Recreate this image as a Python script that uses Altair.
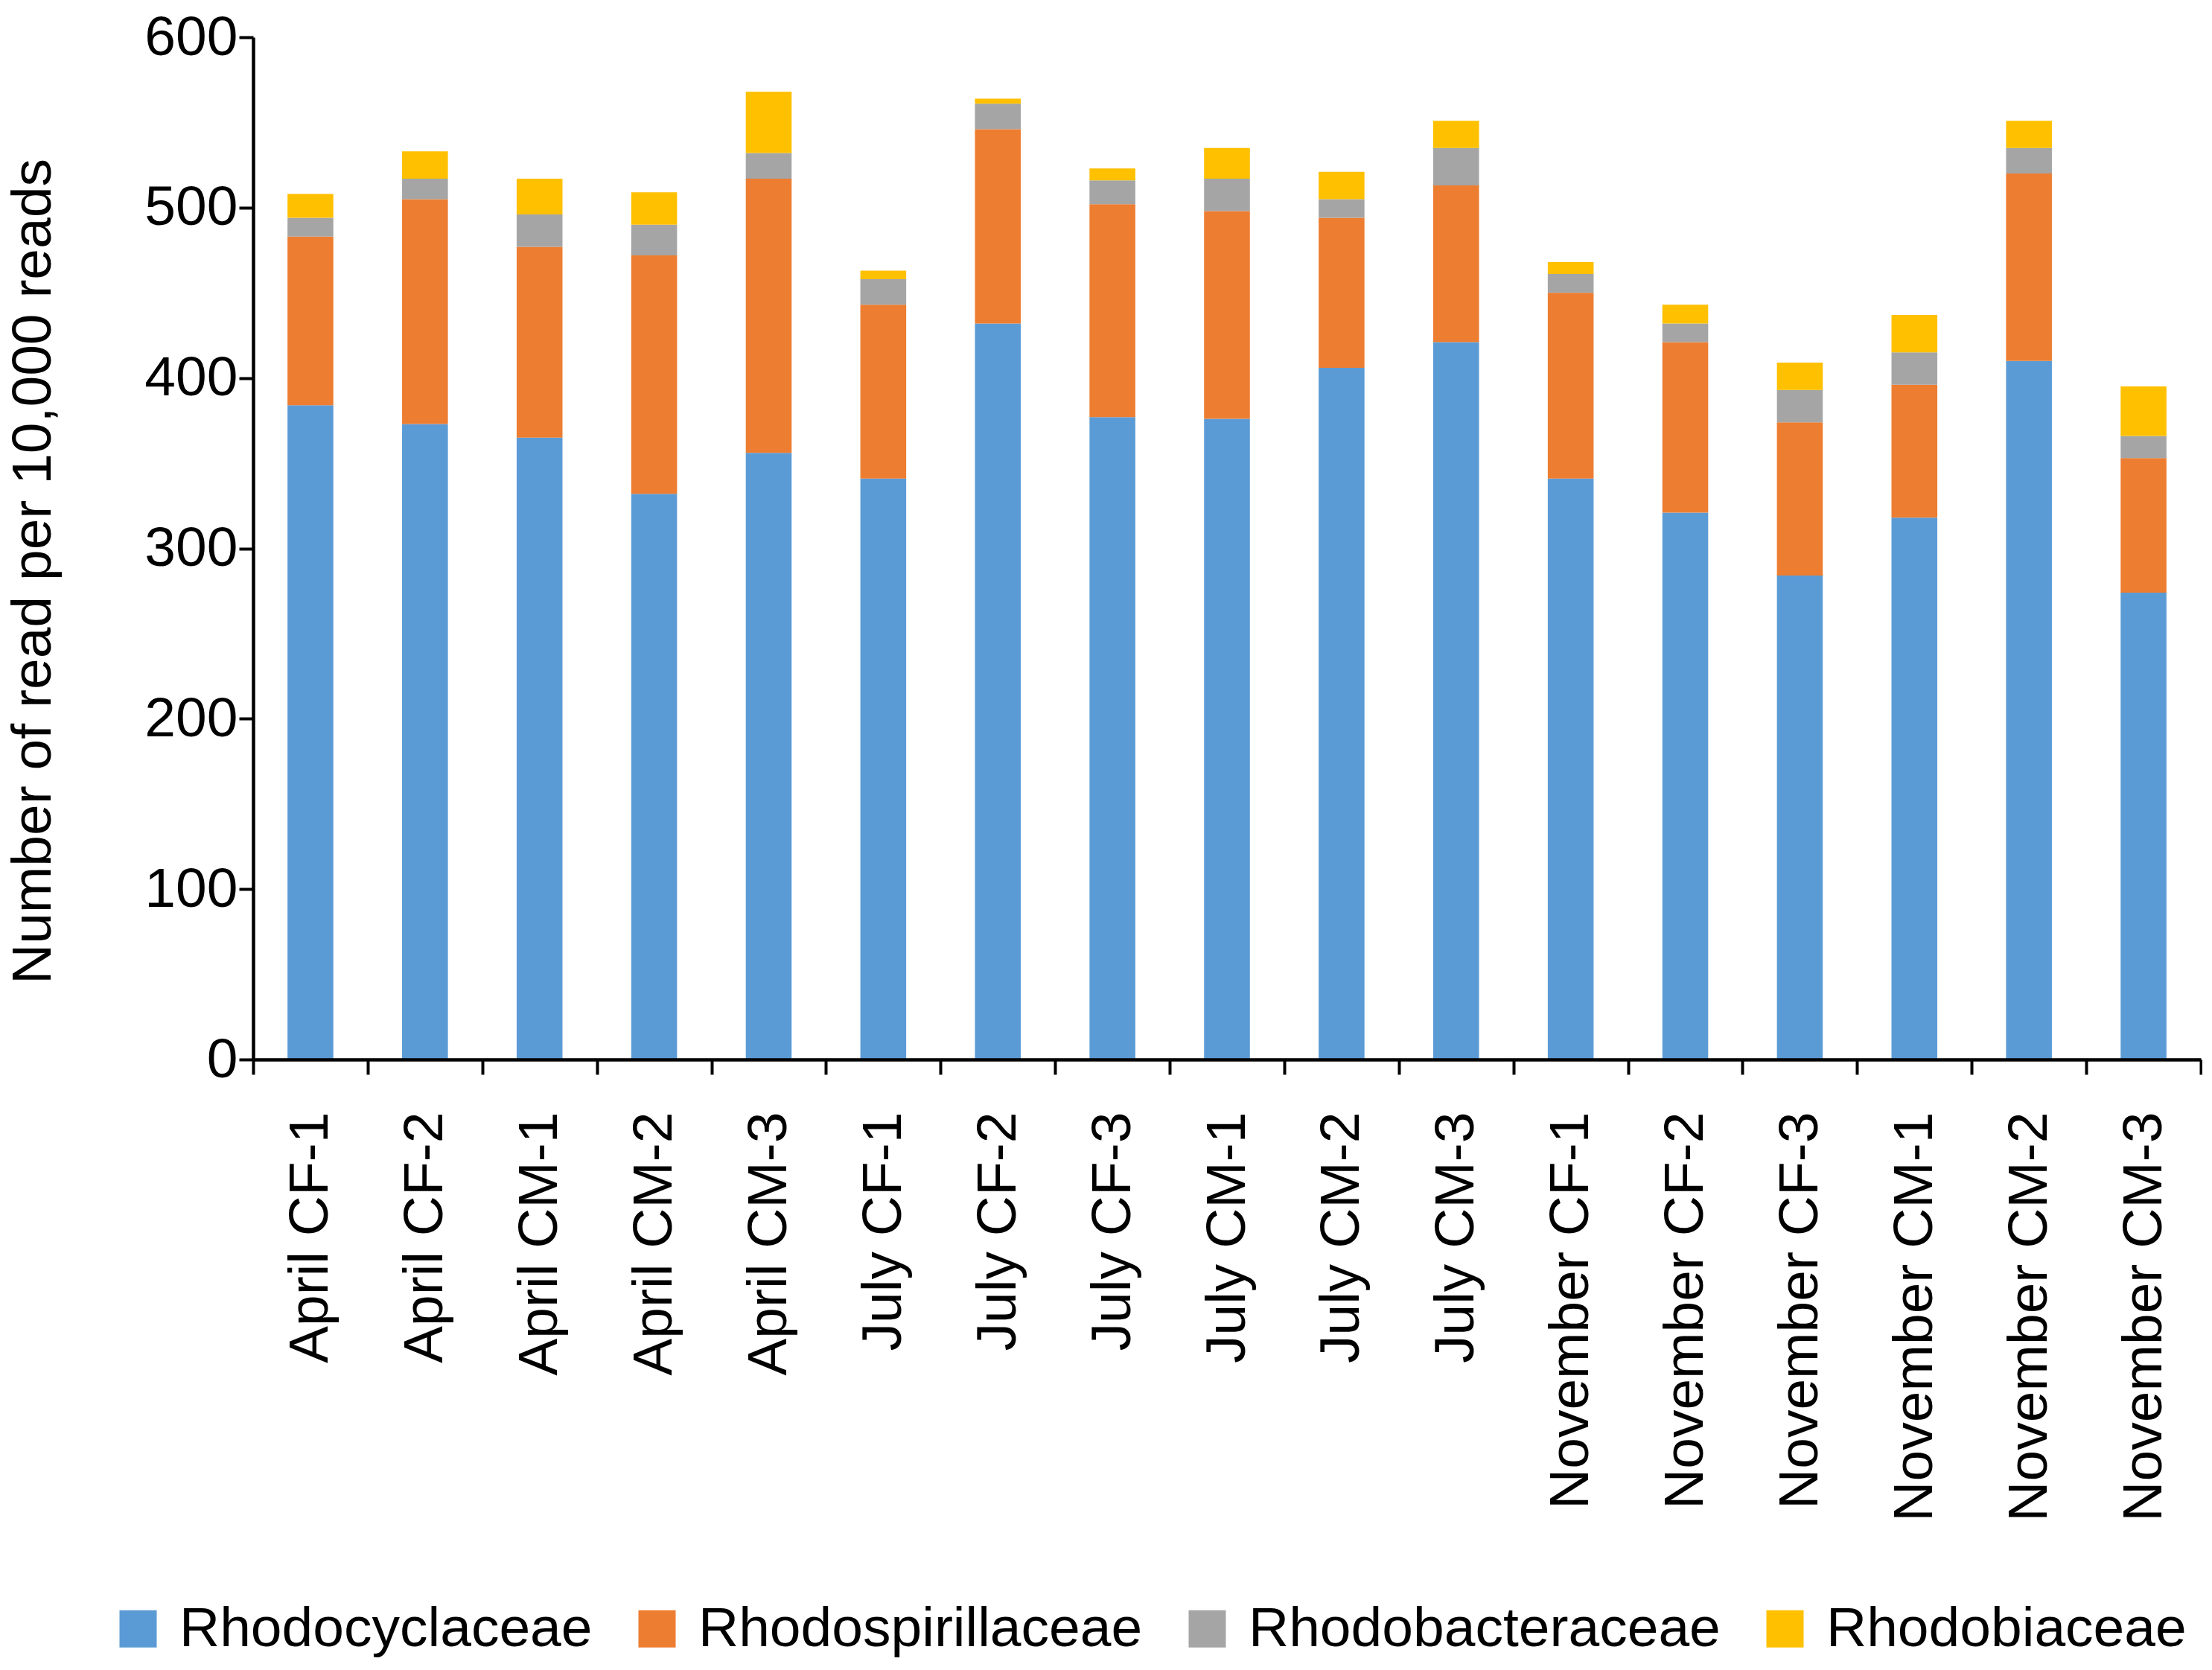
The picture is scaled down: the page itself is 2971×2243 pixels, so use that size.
import altair as alt
import pandas as pd

samples = [
    "April CF-1", "April CF-2", "April CM-1", "April CM-2", "April CM-3",
    "July CF-1", "July CF-2", "July CF-3", "July CM-1", "July CM-2", "July CM-3",
    "November CF-1", "November CF-2", "November CF-3", "November CM-1",
    "November CM-2", "November CM-3",
]
families = ["Rhodocyclaceae", "Rhodospirillaceae", "Rhodobacteraceae", "Rhodobiaceae"]
colors = ["#5B9BD5", "#ED7D31", "#A5A5A5", "#FFC000"]

rhodocyclaceae = [384, 373, 365, 332, 356, 341, 432, 377, 376, 406, 421, 341, 321, 284, 318, 410, 274]
rhodospirillaceae = [99, 132, 112, 140, 161, 102, 114, 125, 122, 88, 92, 109, 100, 90, 78, 110, 79]
rhodobacteraceae = [11, 12, 19, 18, 15, 15, 15, 14, 19, 11, 22, 11, 11, 19, 19, 15, 13]
rhodobiaceae = [14, 16, 21, 19, 36, 5, 3, 7, 18, 16, 16, 7, 11, 16, 22, 16, 29]

y_ticks = [0, 100, 200, 300, 400, 500, 600]

rows = []
for i, vals in enumerate([rhodocyclaceae, rhodospirillaceae, rhodobacteraceae, rhodobiaceae]):
    for s, v in zip(samples, vals):
        rows.append({"Sample": s, "Family": families[i], "Reads": v, "stack": i})
df = pd.DataFrame(rows)

font = "Liberation Sans"

chart = alt.Chart(df).mark_bar(width=alt.RelativeBandSize(0.4)).encode(
    x=alt.X("Sample:N", sort=samples, title=None,
            scale=alt.Scale(paddingInner=0, paddingOuter=0),
            axis=alt.Axis(labelAngle=-90, labelFontSize=75, labelFont=font,
                          labelColor="black", labelPadding=50, labelLimit=0,
                          tickBand="extent", tickSize=20, tickWidth=4,
                          tickColor="black", domainColor="black",
                          domainWidth=4.5, zindex=1)),
    y=alt.Y("Reads:Q", stack="zero", scale=alt.Scale(domain=[0, 600]),
            title="Number of read per 10,000 reads",
            axis=alt.Axis(values=y_ticks, grid=False, labelFontSize=75,
                          labelFont=font, labelColor="black", labelPadding=2,
                          tickSize=19, tickWidth=4, tickColor="black",
                          domainColor="black", domainWidth=4.5,
                          titleFont=font, titleFontSize=75,
                          titleFontWeight="normal", titleColor="black",
                          titlePadding=110, titleY=717, zindex=1)),
    color=alt.Color("Family:N", sort=families,
                    scale=alt.Scale(domain=families, range=colors),
                    legend=alt.Legend(title=None, orient="none", legendX=-192,
                                      legendY=2100, direction="horizontal",
                                      symbolType="square", symbolSize=2500,
                                      symbolStrokeWidth=0, labelFontSize=75,
                                      labelFont=font, labelColor="black",
                                      labelLimit=0, labelOffset=18,
                                      columnPadding=49)),
    order=alt.Order("stack:Q"),
).properties(
    width=2616, height=1373,
    autosize=alt.AutoSizeParams(type="none"),
    padding={"left": 332, "top": 42, "right": 2, "bottom": 807},
).configure_view(stroke=None)

chart.save("out.html", embed_options={"renderer": "svg", "actions": False})
